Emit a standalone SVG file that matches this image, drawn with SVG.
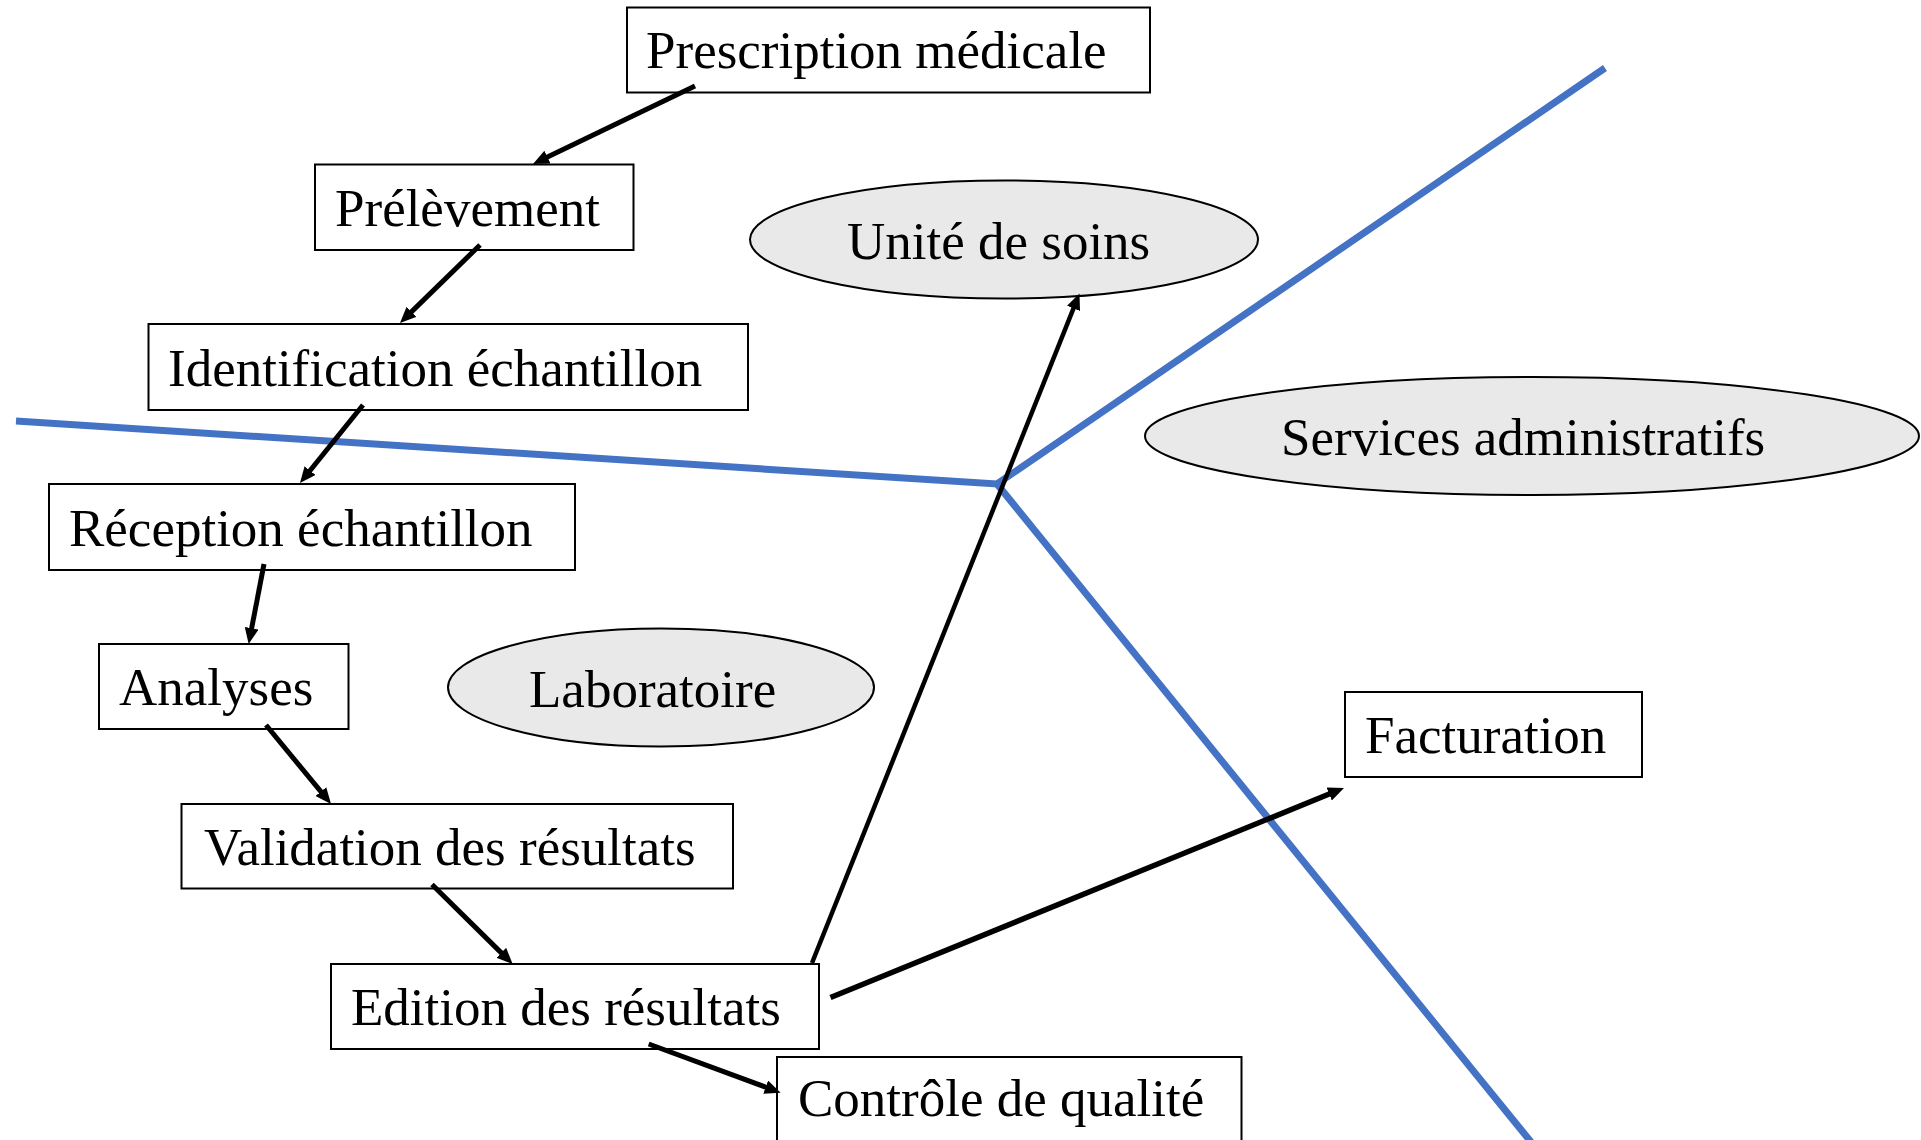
<svg xmlns="http://www.w3.org/2000/svg" width="1921" height="1140" viewBox="0 0 1921 1140">
<style>
.box{fill:#fff;stroke:#000;stroke-width:2}
.ell{fill:#e9e9e9;stroke:#000;stroke-width:2}
.t{font-family:"Liberation Serif","Times New Roman",serif;font-size:53px;fill:#000}
.sep{fill:none;stroke:#4472C4;stroke-width:7}
.arr{fill:none;stroke:#000;stroke-width:5;marker-end:url(#ah)}
</style>
<defs>
<marker id="ah" markerUnits="userSpaceOnUse" markerWidth="16" markerHeight="14" refX="4" refY="7" orient="auto">
<path d="M0,0 L16,7 L0,14 z" fill="#000"/>
</marker>
</defs>
<rect width="1921" height="1140" fill="#fff"/>
<g id="separators">
<polyline class="sep" points="16,421 997,484 1605,68"/>
<line class="sep" x1="997" y1="484" x2="1531" y2="1142"/>
</g>
<g id="n-unite"><ellipse class="ell" cx="1004" cy="239.5" rx="254" ry="59"/><text class="t" x="847" y="259">Unité de soins</text></g>
<g id="n-services"><ellipse class="ell" cx="1532" cy="436" rx="387" ry="59"/><text class="t" x="1281" y="455">Services administratifs</text></g>
<g id="n-labo"><ellipse class="ell" cx="661" cy="687.5" rx="213" ry="59"/><text class="t" x="529" y="707">Laboratoire</text></g>
<g id="n-prescription"><rect class="box" x="627" y="7.5" width="523" height="85"/><text class="t" x="646" y="68">Prescription médicale</text></g>
<g id="n-prelevement"><rect class="box" x="315" y="164.5" width="318.5" height="85.5"/><text class="t" x="335" y="226">Prélèvement</text></g>
<g id="n-identification"><rect class="box" x="148.5" y="324" width="599.5" height="86"/><text class="t" x="168" y="386">Identification échantillon</text></g>
<g id="n-reception"><rect class="box" x="49" y="484" width="526" height="86"/><text class="t" x="69" y="546">Réception échantillon</text></g>
<g id="n-analyses"><rect class="box" x="99" y="644" width="249.5" height="85"/><text class="t" x="119" y="705">Analyses</text></g>
<g id="n-validation"><rect class="box" x="181.5" y="804" width="551.5" height="84.5"/><text class="t" x="204" y="865">Validation des résultats</text></g>
<g id="n-edition"><rect class="box" x="331" y="964" width="488" height="85"/><text class="t" x="351" y="1025">Edition des résultats</text></g>
<g id="n-controle"><rect class="box" x="777" y="1057" width="464.5" height="90"/><text class="t" x="798" y="1116">Contrôle de qualité</text></g>
<g id="n-facturation"><rect class="box" x="1345" y="692" width="297" height="85"/><text class="t" x="1365" y="753">Facturation</text></g>
<g id="connectors">
<line class="arr" x1="695" y1="86" x2="543.8" y2="158.8"/>
<line class="arr" x1="480" y1="245" x2="408.6" y2="314.6"/>
<line class="arr" x1="363" y1="405" x2="307.5" y2="473.7"/>
<line class="arr" x1="264" y1="564" x2="250.9" y2="632.2"/>
<line class="arr" x1="266" y1="725" x2="323.4" y2="794.7"/>
<line class="arr" x1="432" y1="884.5" x2="504.1" y2="955.6"/>
<line class="arr" x1="648.7" y1="1044" x2="769.4" y2="1088.5"/>
<line class="arr" style="stroke-width:4.5" x1="812" y1="963" x2="1075" y2="304.6"/>
<line class="arr" style="stroke-width:5.5" x1="830.5" y1="997.5" x2="1332.9" y2="792.5"/>
</g>
</svg>
